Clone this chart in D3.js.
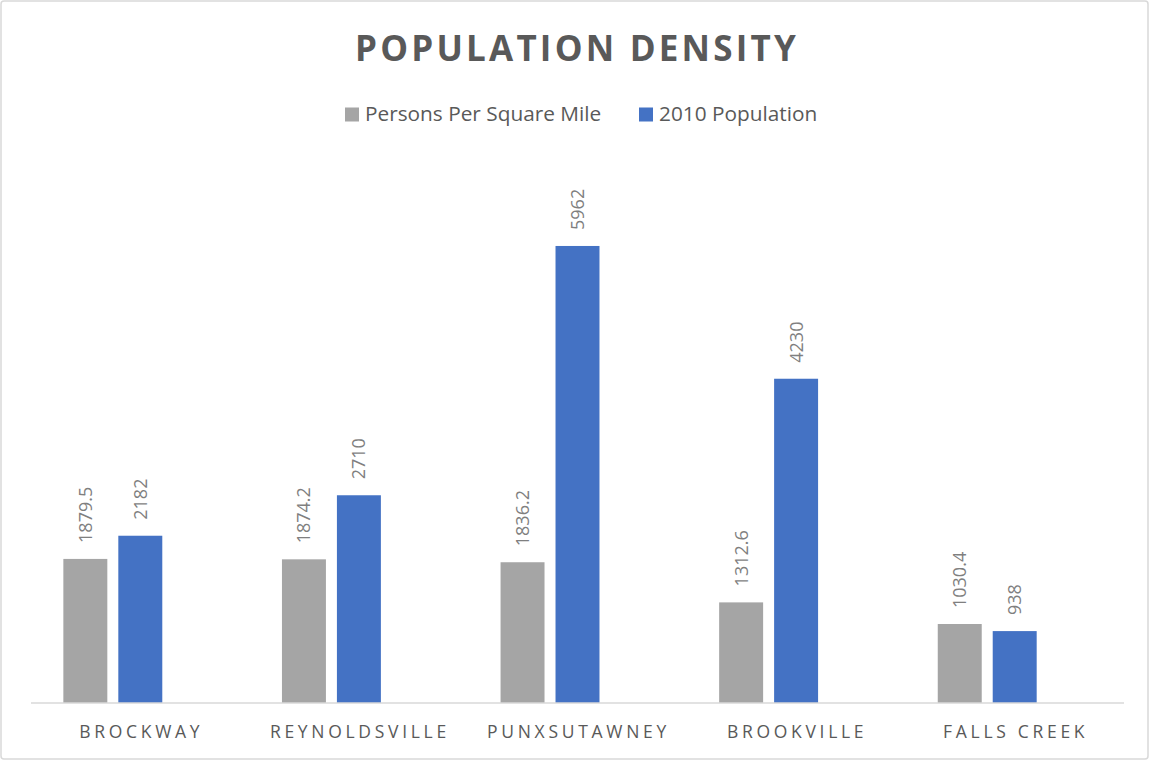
<!DOCTYPE html>
<html>
<head>
<meta charset="utf-8">
<script src="https://cdn.jsdelivr.net/npm/d3@7"></script>
<style>
  html, body { margin: 0; padding: 0; background: #fff; }
  svg { display: block; }
</style>
</head>
<body>
<div id="chart"></div>
<script>
// Boroughs compared
const categories = ["BROCKWAY", "REYNOLDSVILLE", "PUNXSUTAWNEY", "BROOKVILLE", "FALLS CREEK"];
// Series
const seriesNames = ["Persons Per Square Mile", "2010 Population"];
const densityValues = [1879.5, 1874.2, 1836.2, 1312.6, 1030.4];
const populationValues = [2182, 2710, 5962, 4230, 938];
const seriesColors = ["#a5a5a5", "#4472c4"];
const yMax = 7000;

const W = 1150, H = 761;
const svg = d3.select("#chart").append("svg")
  .attr("width", W).attr("height", H);

// outer frame
svg.append("rect")
  .attr("x", 1).attr("y", 1).attr("width", W - 3).attr("height", H - 3)
  .attr("rx", 3)
  .attr("fill", "#fff").attr("stroke", "#d9d9d9").attr("stroke-width", 1.5);

const plot = { left: 31, right: 1124, top: 166.4, bottom: 703 };

const x0 = d3.scaleBand().domain(categories).range([plot.left, plot.right]).padding(0);
// each cluster keeps room for three bars; only the first two hold data
const clusterGap = x0.bandwidth() * 0.148;
const x1 = d3.scaleBand().domain([0, 1, 2])
  .range([clusterGap, x0.bandwidth() - clusterGap]).paddingInner(0.2);
const y = d3.scaleLinear().domain([0, yMax]).range([plot.bottom, plot.top]);

const fontFamily = "'Open Sans', 'Noto Sans', sans-serif";

// title
svg.append("text")
  .attr("x", 577).attr("y", 61)
  .attr("text-anchor", "middle")
  .attr("font-family", fontFamily)
  .attr("font-weight", 700)
  .attr("font-size", 35)
  .attr("letter-spacing", 3.2)
  .attr("fill", "#595959")
  .text("POPULATION DENSITY");

// legend
const legendItems = [
  { name: seriesNames[0], color: seriesColors[0], x: 345 },
  { name: seriesNames[1], color: seriesColors[1], x: 639 }
];
const lg = svg.append("g");
legendItems.forEach(it => {
  lg.append("rect").attr("x", it.x).attr("y", 107.5).attr("width", 14).attr("height", 14).attr("fill", it.color);
  lg.append("text").attr("x", it.x + 20).attr("y", 121)
    .attr("font-family", fontFamily).attr("font-size", 20.8).attr("fill", "#595959")
    .text(it.name);
});

// bars
const rows = categories.map((c, i) => ({ cat: c, values: [densityValues[i], populationValues[i]] }));
const groups = svg.append("g").selectAll("g").data(rows).join("g")
  .attr("transform", d => `translate(${x0(d.cat)},0)`);

groups.selectAll("rect").data(d => d.values.map((v, k) => ({ v, k }))).join("rect")
  .attr("x", d => x1(d.k))
  .attr("width", x1.bandwidth())
  .attr("y", d => y(d.v))
  .attr("height", d => y(0) - y(d.v))
  .attr("fill", d => seriesColors[d.k]);

// value labels, rotated and centred on each bar
groups.selectAll("text.val").data(d => d.values.map((v, k) => ({ v, k }))).join("text")
  .attr("class", "val")
  .attr("transform", d => `translate(${x1(d.k) + x1.bandwidth() / 2},${y(d.v) - 16}) rotate(-90)`)
  .attr("dy", "0.36em")
  .attr("font-family", fontFamily).attr("font-size", 18).attr("fill", "#7f7f7f")
  .text(d => String(d.v));

// axis line
svg.append("line")
  .attr("x1", plot.left).attr("x2", plot.right)
  .attr("y1", plot.bottom).attr("y2", plot.bottom)
  .attr("stroke", "#d9d9d9").attr("stroke-width", 1.5);

// category labels
svg.append("g").selectAll("text").data(categories).join("text")
  .attr("x", d => x0(d) + x0.bandwidth() / 2 + 1)
  .attr("y", 738)
  .attr("text-anchor", "middle")
  .attr("font-family", fontFamily).attr("font-size", 17.5)
  .attr("letter-spacing", 3.7)
  .attr("fill", "#595959")
  .text(d => d);
</script>
</body>
</html>
